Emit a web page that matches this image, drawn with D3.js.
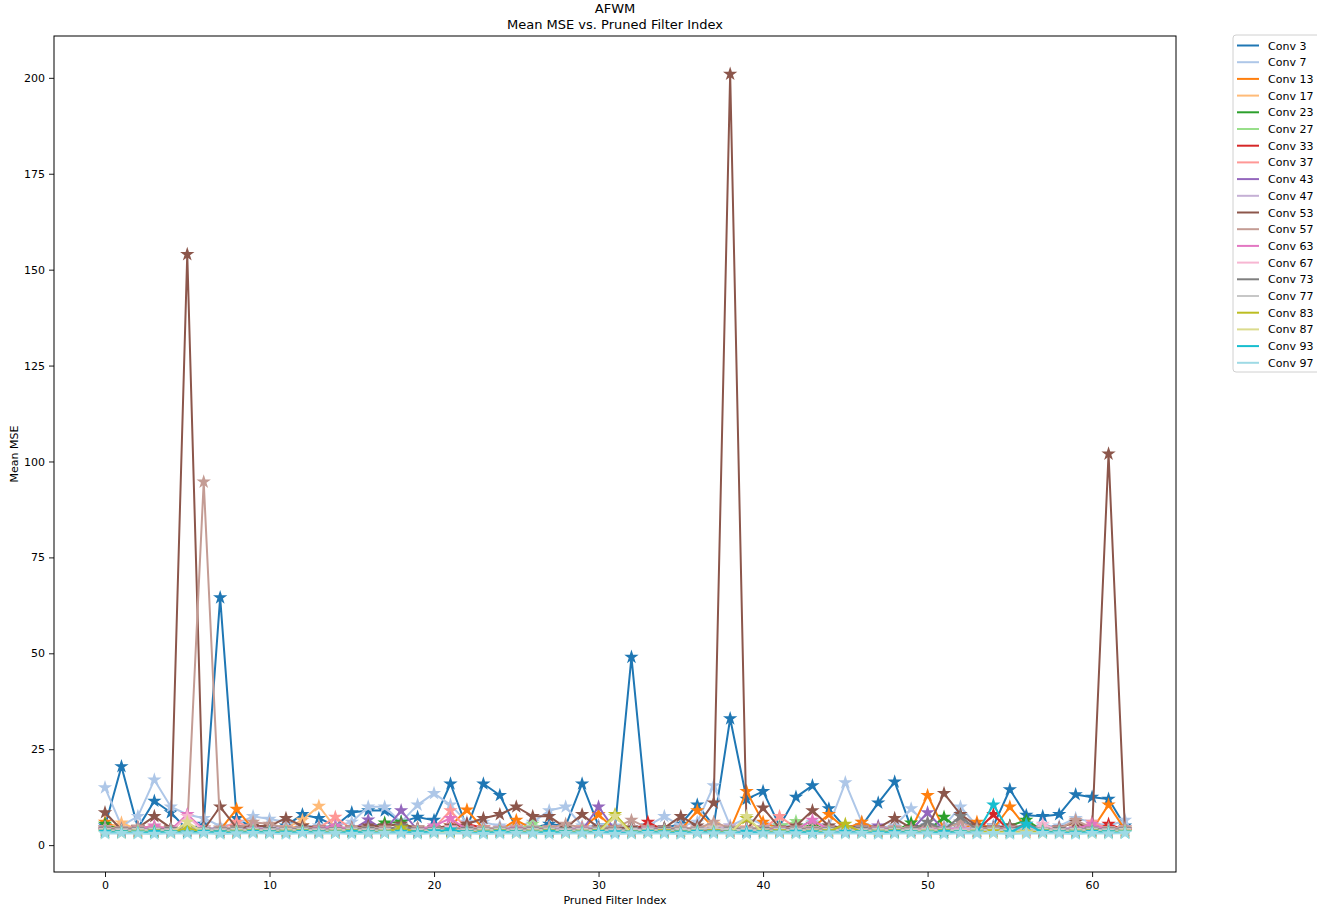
<!DOCTYPE html>
<html>
<head>
<meta charset="utf-8">
<script src="https://cdn.jsdelivr.net/npm/d3@7"></script>
<style>
  body { margin: 0; background: #fff; }
  svg { font-family: "DejaVu Sans", sans-serif; }
</style>
</head>
<body>
<div id="chart"></div>
<script>
// pruned filter index 0..62
const filterIndex = d3.range(63)

const layerNames = ["Conv 3", "Conv 7", "Conv 13", "Conv 17", "Conv 23", "Conv 27", "Conv 33", "Conv 37", "Conv 43", "Conv 47",
  "Conv 53", "Conv 57", "Conv 63", "Conv 67", "Conv 73", "Conv 77", "Conv 83", "Conv 87", "Conv 93", "Conv 97"]

const conv3 = [5, 20.5, 4.5, 11.5, 8.5, 4, 5.5, 64.5, 7, 4.5,
  4.5, 5, 8, 7, 5, 8.5, 9, 9, 6, 7.3,
  6.5, 16, 4.5, 16, 13, 4.5, 4.5, 5.5, 5, 16,
  5, 4.5, 49, 5, 4.5, 5.5, 10.5, 5, 33, 12,
  14, 5, 12.5, 15.5, 9.5, 4.5, 5, 11, 16.5, 4.5,
  5, 4.5, 6, 5, 5, 14.5, 7.8, 7.5, 8, 13.2,
  12.5, 12, 5]
const conv7 = [15, 5, 7.5, 17, 10, 8, 7, 5, 5.5, 7.5,
  6.8, 6, 5, 5, 5, 6, 10, 10, 6, 10.5,
  13.5, 10.5, 6, 6, 5, 5, 6, 9, 10, 5,
  5, 5, 4.5, 5, 7.5, 5, 6, 15.5, 5, 7,
  5.5, 5, 5, 6, 5, 16.3, 6, 4.5, 5, 9.5,
  5, 5, 10, 5, 5, 5, 5, 5, 5, 7,
  6, 5, 6.5]
const conv13 = [6, 4.2, 3.8, 4, 4.3, 4, 4.5, 4, 9.4, 4.2,
  3.9, 4.3, 5, 4, 4.2, 4, 4.5, 4.2, 4, 4.3,
  4, 5, 9.2, 4.2, 4, 6.5, 4.2, 4, 4.5, 4.2,
  8, 4, 4.2, 4, 4.3, 4, 9, 4.5, 4, 14,
  6, 4.2, 4, 4.5, 8, 4.2, 6, 4, 4.3, 4,
  13, 4.2, 4, 6, 4.2, 10, 4.5, 4, 4.2, 4.5,
  4, 10.5, 4]
const conv17 = [4.5, 5.8, 4, 4, 4.2, 4, 4.3, 4, 4.5, 4,
  4.2, 4.5, 6.5, 10.2, 4.5, 4, 4.2, 4, 4.5, 4,
  4.2, 4.5, 4, 4.3, 4, 4.5, 4, 4.2, 4, 4.5,
  4, 4.2, 4, 4.5, 4, 4.2, 4.5, 5.5, 4, 4.5,
  4.2, 4, 4.5, 4, 4.2, 4.5, 4, 4.3, 4, 4.5,
  4.2, 4, 4.5, 4, 4.2, 4.5, 4, 4.3, 4, 4.5,
  4.2, 4, 4.3]
const conv23 = [5.5, 3.8, 3.6, 3.8, 3.7, 3.6, 3.8, 3.5, 3.7, 3.8,
  3.6, 3.8, 3.7, 3.6, 3.8, 3.7, 4.5, 5.8, 6, 3.8,
  3.7, 3.6, 3.8, 3.7, 3.6, 3.8, 3.7, 3.6, 3.8, 3.7,
  3.6, 3.8, 3.7, 3.6, 3.8, 3.7, 3.6, 3.8, 3.7, 3.6,
  3.8, 3.7, 3.6, 5.5, 3.7, 3.6, 3.8, 3.7, 3.6, 5.8,
  3.7, 7.3, 3.8, 3.7, 3.6, 5, 6.5, 3.8, 3.7, 3.6,
  3.8, 3.7, 3.6]
const conv27 = [4.2, 4, 4.2, 4, 4.3, 4, 4.2, 4, 4.3, 4,
  4.2, 4, 4.2, 4, 4.3, 4, 4.2, 4, 4.3, 4,
  4.2, 4, 4.2, 4, 4.3, 4, 5.5, 4, 4.3, 4,
  4.2, 4, 4.2, 4, 4.3, 4, 4.2, 4, 4.3, 4,
  4.2, 5, 6.2, 4, 4.3, 4, 4.2, 4, 4.3, 4,
  4.2, 4, 4.2, 4, 4.3, 4, 4.2, 4, 4.3, 4,
  4.2, 4, 4.2]
const conv33 = [3.8, 3.6, 3.8, 3.7, 3.6, 4.5, 3.7, 3.6, 3.8, 3.7,
  3.6, 3.8, 3.7, 3.6, 3.8, 3.7, 3.6, 3.8, 3.7, 3.6,
  3.8, 3.7, 5.5, 4.5, 3.8, 3.7, 3.6, 3.8, 3.7, 3.6,
  3.8, 3.7, 3.6, 6, 3.8, 3.7, 3.6, 3.8, 3.7, 3.6,
  3.8, 3.7, 3.6, 3.8, 3.7, 3.6, 3.8, 3.7, 3.6, 3.8,
  3.7, 3.6, 3.8, 3.7, 8, 3.6, 3.8, 3.7, 3.6, 3.8,
  3.7, 5.5, 3.8]
const conv37 = [4.5, 4.2, 4.5, 4.8, 4.5, 4.2, 4.5, 4.2, 6, 4.5,
  4.2, 4.5, 4.2, 4.5, 7.3, 4.2, 4.5, 4.2, 4.5, 4.2,
  4.5, 9, 4.2, 4.5, 4.2, 4.5, 4.2, 4.5, 4.2, 4.5,
  4.2, 4.5, 4.2, 4.5, 4.2, 4.5, 4.2, 4.5, 4.2, 4.5,
  4.2, 7.5, 4.5, 4.2, 4.5, 4.2, 4.5, 4.2, 4.5, 4.2,
  4.5, 4.2, 4.5, 4.2, 4.5, 4.2, 4.5, 4.2, 4.5, 4.2,
  6, 4.2, 4.5]
const conv43 = [4, 3.8, 4, 3.9, 4, 3.8, 4, 3.9, 4, 3.8,
  4, 3.9, 4, 3.8, 4, 3.9, 6.6, 3.8, 9, 3.9,
  4, 3.8, 4, 3.9, 4, 3.8, 4, 3.9, 4, 3.8,
  10, 3.9, 4, 3.8, 4, 3.9, 4, 3.8, 4, 3.9,
  4.5, 3.8, 4, 3.9, 4, 3.8, 4, 5, 4, 3.8,
  8.5, 3.9, 4, 3.8, 4, 3.9, 4, 3.8, 4, 3.9,
  4, 3.8, 4]
const conv47 = [4.6, 4.3, 4.5, 4.4, 4.6, 4.3, 4.5, 4.4, 4.6, 4.3,
  4.5, 4.4, 4.6, 4.3, 4.5, 4.4, 4.6, 4.3, 4.5, 4.4,
  4.6, 4.3, 4.5, 4.4, 4.6, 4.3, 4.5, 4.4, 4.6, 4.3,
  4.5, 4.4, 4.6, 4.3, 4.5, 4.4, 4.6, 4.3, 5, 4.4,
  4.6, 4.3, 4.5, 4.4, 4.6, 4.3, 4.5, 4.4, 4.6, 4.3,
  4.5, 4.4, 4.6, 4.3, 4.5, 4.4, 4.6, 4.3, 4.5, 4.4,
  4.6, 4.3, 4.5]
const conv53 = [8.5, 4, 4.5, 7.5, 4.5, 154, 4, 10, 4.5, 5,
  5, 7, 5, 4.5, 4.5, 4.5, 5, 5, 5.5, 4.5,
  4.5, 5, 5.5, 7, 8, 10, 7.5, 7.5, 4.5, 8,
  4.5, 4.5, 4.5, 4.5, 4.5, 7.5, 5, 11, 201, 4,
  9.7, 4.5, 5, 9, 5, 4.5, 4.5, 4.5, 7, 4.5,
  4.5, 13.5, 8, 5, 4.5, 5, 4.5, 4.5, 4.5, 6,
  4, 102, 3.5]
const conv57 = [4.5, 4.3, 4.8, 4.5, 4.3, 4.5, 94.7, 4.5, 4.3, 6,
  5.5, 4.5, 4.3, 4.5, 4.3, 4.5, 4.3, 4.5, 4.3, 4.5,
  4.3, 4.5, 4.3, 4.5, 4.3, 4.5, 4.3, 4.5, 5.5, 4.5,
  4.3, 4.5, 6.5, 4.5, 4.3, 4.5, 4.3, 6, 4.5, 4.3,
  4.5, 4.3, 4.5, 4.3, 4.5, 4.3, 4.5, 4.3, 4.5, 4.3,
  4.5, 4.3, 6, 4.5, 4.3, 4.5, 4.3, 4.5, 4.3, 6.5,
  4.5, 4.3, 4.5]
const conv63 = [4, 3.8, 4.2, 5, 4, 8, 4, 3.8, 4, 4.2,
  4, 3.8, 4, 4.2, 5, 4, 3.8, 4, 4.2, 4,
  5, 7, 4, 3.8, 4, 4.2, 4, 3.8, 4, 4.2,
  4, 3.8, 4, 4.2, 4, 3.8, 4, 4.2, 4, 3.8,
  4, 4.2, 4, 6.5, 4, 3.8, 4, 4.2, 4, 3.8,
  4, 4.2, 4, 3.8, 4, 4.2, 4, 3.8, 4, 4.2,
  5.5, 3.8, 4]
const conv67 = [3.5, 3.6, 3.5, 3.6, 3.5, 7.5, 3.6, 3.5, 3.6, 3.5,
  3.6, 3.5, 3.6, 3.5, 3.6, 3.5, 3.6, 3.5, 3.6, 3.5,
  3.6, 4.5, 3.6, 3.5, 3.6, 3.5, 3.6, 3.5, 3.6, 3.5,
  3.6, 3.5, 3.6, 3.5, 3.6, 3.5, 3.6, 3.5, 3.6, 3.5,
  3.6, 3.5, 3.6, 3.5, 3.6, 3.5, 3.6, 3.5, 3.6, 3.5,
  3.6, 3.5, 3.6, 3.5, 3.6, 3.5, 3.6, 5.5, 3.6, 3.5,
  3.6, 3.5, 3.6]
const conv73 = [4.2, 4, 4.1, 4, 4.2, 4, 4.1, 4, 4.2, 4,
  4.1, 4, 4.2, 4, 4.1, 4, 4.2, 4, 5, 4,
  4.1, 4, 4.2, 4, 4.1, 4, 4.2, 4, 4.1, 4,
  4.2, 4, 4.1, 4, 4.2, 4, 4.1, 4, 4.2, 4,
  4.1, 4, 4.2, 4, 4.1, 4, 4.2, 4, 4.1, 4,
  6, 4, 7.5, 4, 4.1, 4, 5.5, 4, 4.1, 4,
  4.2, 4, 4.1]
const conv77 = [3.9, 3.8, 3.9, 4, 3.8, 3.9, 4, 3.8, 3.9, 4,
  3.8, 3.9, 4, 3.8, 3.9, 4, 3.8, 3.9, 4, 3.8,
  3.9, 4, 3.8, 3.9, 4, 3.8, 3.9, 4, 3.8, 3.9,
  4, 3.8, 3.9, 4, 3.8, 3.9, 4, 4.5, 3.9, 4,
  3.8, 3.9, 4, 3.8, 3.9, 4, 3.8, 3.9, 4, 3.8,
  3.9, 4, 3.8, 3.9, 4, 3.8, 3.9, 4, 3.8, 3.9,
  4, 3.8, 3.9]
const conv83 = [3.4, 3.3, 3.4, 3.5, 3.3, 4.5, 3.4, 3.3, 3.4, 3.5,
  3.3, 3.4, 3.5, 3.3, 3.4, 3.5, 3.3, 3.4, 4.5, 3.3,
  3.4, 3.5, 3.3, 3.4, 3.5, 3.3, 3.4, 3.5, 3.3, 3.4,
  3.5, 8, 3.3, 3.4, 3.5, 3.3, 3.4, 3.5, 3.3, 7,
  3.4, 3.5, 3.3, 3.4, 3.5, 5.5, 3.3, 3.4, 3.5, 3.3,
  3.4, 3.5, 3.3, 3.4, 3.5, 3.3, 3.4, 3.5, 3.3, 3.4,
  3.5, 3.3, 3.4]
const conv87 = [3.2, 3.1, 3.2, 3.3, 3.1, 6, 3.2, 3.1, 3.2, 3.3,
  3.1, 3.2, 3.3, 3.1, 3.2, 3.3, 3.1, 3.2, 3.3, 3.1,
  3.2, 3.3, 3.1, 3.2, 3.3, 3.1, 3.2, 3.3, 3.1, 3.2,
  3.3, 7.5, 3.1, 3.2, 3.3, 3.1, 3.2, 3.3, 3.1, 7.5,
  3.2, 3.3, 3.1, 3.2, 3.3, 3.1, 3.2, 3.3, 3.1, 3.2,
  3.3, 3.1, 3.2, 3.3, 3.1, 3.2, 3.3, 3.1, 3.2, 3.3,
  3.1, 3.2, 3.3]
const conv93 = [3.4, 3.3, 3.2, 3.4, 3.3, 3.2, 3.4, 3.3, 3.2, 3.4,
  3.3, 3.2, 3.4, 3.3, 3.2, 3.4, 3.3, 3.2, 3.4, 3.3,
  3.5, 4, 3.3, 3.2, 3.4, 3.3, 3.2, 3.4, 3.3, 3.2,
  3.4, 3.3, 3.2, 3.4, 3.3, 3.2, 3.4, 3.3, 3.2, 3.4,
  3.3, 3.2, 3.4, 3.3, 3.2, 3.4, 3.3, 3.2, 3.4, 3.3,
  3.2, 3.4, 3.3, 3.2, 10.5, 3.3, 5.5, 3.4, 3.3, 3.2,
  3.4, 3.3, 3.2]
const conv97 = [3, 3.1, 3, 2.9, 3.1, 3, 3.1, 2.9, 3, 3.1,
  3, 2.9, 3.1, 3, 3.1, 2.9, 3, 3.1, 3, 2.9,
  3.1, 3, 3.1, 2.9, 3, 3.1, 3, 2.9, 3.1, 3,
  3.1, 2.9, 3, 3.1, 3, 2.9, 3.1, 3, 3.1, 2.9,
  3, 3.1, 3, 2.9, 3.1, 3, 3.1, 2.9, 3, 3.1,
  3, 2.9, 3.1, 3, 3.1, 2.9, 3, 3.1, 3, 2.9,
  3.1, 3, 3.1]

const seriesValues = [conv3, conv7, conv13, conv17, conv23, conv27, conv33, conv37, conv43, conv47,
  conv53, conv57, conv63, conv67, conv73, conv77, conv83, conv87, conv93, conv97]

const xTicks = [0, 10, 20, 30, 40, 50, 60]
const yTicks = [0, 25, 50, 75, 100, 125, 150, 175, 200]

const width = 1317
const height = 910
const margin = {top: 36, right: 141, bottom: 38, left: 54}
const innerW = width - margin.left - margin.right
const innerH = height - margin.top - margin.bottom

// matplotlib tab20 colour cycle
const color = d3.scaleOrdinal().domain(layerNames).range([
  "#1f77b4", "#aec7e8", "#ff7f0e", "#ffbb78", "#2ca02c", "#98df8a", "#d62728", "#ff9896", "#9467bd", "#c5b0d5",
  "#8c564b", "#c49c94", "#e377c2", "#f7b6d2", "#7f7f7f", "#c7c7c7", "#bcbd22", "#dbdb8d", "#17becf", "#9edae5"])

let series = layerNames.map((name, i) => ({name: name, values: seriesValues[i].map((v, j) => ({x: filterIndex[j], y: v}))}))

let allY = seriesValues.flat()
let yMin = d3.min(allY), yMax = d3.max(allY)
let xPad = (d3.max(filterIndex) - d3.min(filterIndex)) * 0.05
let yPad = (yMax - yMin) * 0.05

let scaleX = d3.scaleLinear()
  .domain([d3.min(filterIndex) - xPad, d3.max(filterIndex) + xPad])
  .range([0, innerW])
let scaleY = d3.scaleLinear()
  .domain([yMin - yPad, yMax + yPad])
  .range([innerH, 0])

let svg = d3.select("#chart")
  .append("svg")
  .attr("width", width)
  .attr("height", height)

let g = svg.append("g")
  .attr("transform", "translate(" + margin.left + "," + margin.top + ")")

// axes
let xAxis = d3.axisBottom(scaleX).tickValues(xTicks).tickSize(5).tickPadding(4)
let yAxis = d3.axisLeft(scaleY).tickValues(yTicks).tickSize(5).tickPadding(4)

let gx = g.append("g")
  .attr("transform", "translate(0," + innerH + ")")
  .call(xAxis)
let gy = g.append("g").call(yAxis)
;[gx, gy].forEach(a => {
  a.select(".domain").remove()
  a.selectAll("text").attr("font-size", 11).attr("fill", "#000").attr("font-family", "DejaVu Sans")
  a.selectAll("line").attr("stroke", "#000").attr("stroke-width", 0.9)
})

let plot = g.append("g")
let line = d3.line().x(d => scaleX(d.x)).y(d => scaleY(d.y))
let star = d3.symbol().type(d3.symbolStar).size(64)

series.forEach(s => {
  let sg = plot.append("g")
  sg.append("path")
    .attr("d", line(s.values))
    .attr("fill", "none")
    .attr("stroke", color(s.name))
    .attr("stroke-width", 2)
    .attr("stroke-linejoin", "round")
  sg.selectAll("path.star")
    .data(s.values)
    .enter()
    .append("path")
    .attr("class", "star")
    .attr("d", star)
    .attr("transform", d => "translate(" + scaleX(d.x) + "," + scaleY(d.y) + ")")
    .attr("fill", color(s.name))
})

// frame
g.append("rect")
  .attr("width", innerW)
  .attr("height", innerH)
  .attr("fill", "none")
  .attr("stroke", "#000")
  .attr("stroke-width", 1)

// titles
svg.append("text")
  .attr("x", margin.left + innerW / 2)
  .attr("y", 13)
  .attr("text-anchor", "middle")
  .attr("font-size", 13)
  .text("AFWM")
svg.append("text")
  .attr("x", margin.left + innerW / 2)
  .attr("y", 29)
  .attr("text-anchor", "middle")
  .attr("font-size", 13)
  .text("Mean MSE vs. Pruned Filter Index")

svg.append("text")
  .attr("x", margin.left + innerW / 2)
  .attr("y", 904)
  .attr("text-anchor", "middle")
  .attr("font-size", 11)
  .text("Pruned Filter Index")
svg.append("text")
  .attr("transform", "translate(18," + (margin.top + innerH / 2) + ") rotate(-90)")
  .attr("text-anchor", "middle")
  .attr("font-size", 11)
  .text("Mean MSE")

// legend outside, to the right
let legend = svg.append("g")
  .attr("transform", "translate(1233,35)")
legend.append("rect")
  .attr("width", 100)
  .attr("height", 337)
  .attr("rx", 3)
  .attr("fill", "#fff")
  .attr("stroke", "#d0d0d0")
layerNames.forEach((name, i) => {
  let row = legend.append("g").attr("transform", "translate(0," + (10.5 + i * 16.7) + ")")
  row.append("line")
    .attr("x1", 4).attr("x2", 26)
    .attr("stroke", color(name))
    .attr("stroke-width", 2)
  row.append("text")
    .attr("x", 35)
    .attr("y", 4)
    .attr("font-size", 11)
    .text(name)
})
</script>
</body>
</html>
